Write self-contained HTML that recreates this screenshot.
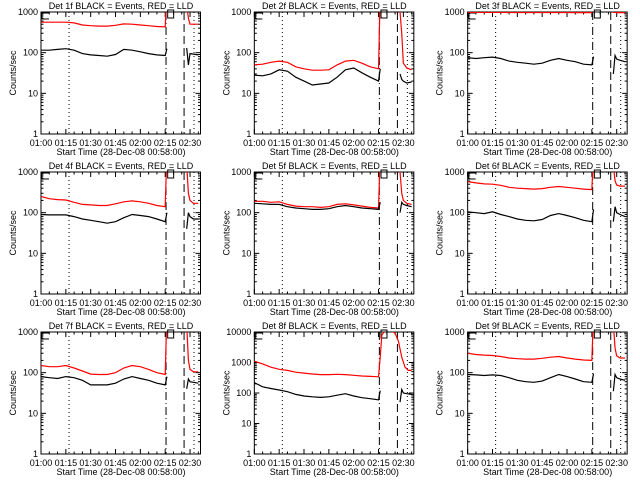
<!DOCTYPE html>
<html><head><meta charset="utf-8"><style>
html,body{margin:0;padding:0;background:#fff}
svg{display:block}
text{font-family:"Liberation Sans",sans-serif;font-size:9px;fill:#000}
</style></head><body>
<svg id="fig" width="640" height="480" xmlns="http://www.w3.org/2000/svg"></svg>
<script>
// shared time grids (minutes after 01:00)
const tMain = [0,5,10,15,20,25,30,35,40,45,50,55,60,65,70,75,76];
const tPost = [88,89,90,92,95];
const xTickLabels = ["01:00","01:15","01:30","01:45","02:00","02:15","02:30"];
const detNames = ["1f","2f","3f","4f","5f","6f","7f","8f","9f"];
const yMaxDecade = [3,3,3,3,3,3,3,4,3];
const blackMain = [
 [115,115,120,125,115,95,88,85,82,90,120,115,105,95,88,85,125],
 [28,27,30,38,35,25,20,16,17,18,25,38,42,32,25,20,40],
 [75,72,75,78,72,62,58,55,52,55,65,72,65,60,52,50,80],
 [90,88,88,88,80,70,65,60,55,60,75,90,85,80,70,60,100],
 [170,165,160,160,140,130,125,120,120,125,140,150,140,130,125,120,180],
 [105,100,95,105,90,80,70,65,63,68,85,95,85,75,65,60,120],
 [80,75,72,80,75,65,50,50,50,55,70,80,72,65,55,50,80],
 [220,160,140,125,110,90,80,75,72,75,85,95,80,70,65,60,120],
 [90,88,85,88,85,75,65,60,58,62,75,90,80,70,60,58,95]
];
const blackPost = [
 [130,50,95,92,88],[30,22,20,18,19],[30,85,70,65,60],[40,100,80,70,70],[100,180,160,150,140],
 [60,140,100,90,80],[40,70,60,58,55],[50,130,100,95,90],[35,90,75,70,65]
];
const redMain = [
 [560,560,560,560,540,480,460,450,450,470,510,500,480,460,440,430,3000],
 [50,52,58,62,58,45,40,37,37,38,50,62,65,55,45,40,3000],
 [975,975,975,975,975,970,970,970,970,970,970,970,970,965,965,965,3000],
 [250,220,210,205,180,160,155,150,150,165,185,195,185,170,150,140,3000],
 [190,190,180,185,160,145,140,140,135,140,160,165,155,145,135,130,3000],
 [580,540,510,500,470,420,400,390,380,390,420,440,420,400,380,370,3000],
 [150,140,140,150,130,110,92,90,90,100,130,150,140,120,100,90,3000],
 [1100,900,700,600,550,480,450,420,400,400,410,400,380,360,350,340,1500],
 [300,280,270,265,250,230,220,215,215,225,240,250,230,215,205,200,3000]
];
const redPost = [
 [1500,700,500,500,500],[1000,300,55,42,38],[975,975,965,965,965],[1500,300,200,170,170],
 [1000,300,200,170,160],[1500,600,480,450,450],[1500,200,120,105,105],[1500,700,550,550,550],
 [1500,400,260,230,230]
];
// post-gap red for panel 8 (continuous flare)
const flareT = [76,77,79,82,85,87,89,91,93,95];
const flareRed = [1500,8000,11000,12000,9000,5000,1500,700,550,550];

const NS="http://www.w3.org/2000/svg";
const svg=document.getElementById('fig');
function el(tag,attrs,parent){const e=document.createElementNS(NS,tag);for(const k in attrs)e.setAttribute(k,attrs[k]);(parent||svg).appendChild(e);return e;}
const PX_PER_MIN=1.656, PL=41, PR=200.5, PT=12, PB=134;
for(let p=0;p<9;p++){
  const ox=(p%3)*213.33, oy=Math.floor(p/3)*160;
  const g=el('g',{transform:`translate(${ox.toFixed(2)},${oy})`});
  
  
  const dec=yMaxDecade[p];
  const xs=t=>PL+t*PX_PER_MIN;
  const ys=v=>{let l=Math.log10(Math.max(v,1));l=Math.min(l,dec+0.5);return PB-(PB-PT)*l/dec;};
  const clip='c'+p;
  const cp=el('clipPath',{id:clip},g);el('rect',{x:PL,y:PT,width:PR-PL,height:PB-PT},cp);
  const ti=el('text',{x:121,y:9,'text-anchor':'middle'},g);ti.textContent=`Det ${detNames[p]} BLACK = Events, RED = LLD`;
  
  const yt=el('text',{x:0,y:0,'text-anchor':'middle',transform:`translate(16,${(PT+PB)/2}) rotate(-90)`,'font-size':'8'},g);yt.textContent='Counts/sec';
  
  const xt=el('text',{x:121,y:155,'text-anchor':'middle'},g);xt.textContent='Start Time (28-Dec-08 00:58:00)';
  
  const fr=el('rect',{x:PL,y:PT,width:PR-PL,height:PB-PT,fill:'none',stroke:'#000','stroke-width':1},g);
  
  for(let d=0;d<=dec;d++){
    const y=ys(Math.pow(10,d));
    el('line',{x1:PL,x2:PL+5,y1:y,y2:y,stroke:'#000'},g);el('line',{x1:PR-5,x2:PR,y1:y,y2:y,stroke:'#000'},g);
    const lb=el('text',{x:38,y:y+3,'text-anchor':'end'},g);lb.textContent=String(Math.pow(10,d));
    
    if(d<dec)for(let m=2;m<10;m++){const ym=ys(m*Math.pow(10,d));
      el('line',{x1:PL,x2:PL+2.5,y1:ym,y2:ym,stroke:'#000'},g);el('line',{x1:PR-2.5,x2:PR,y1:ym,y2:ym,stroke:'#000'},g);}
  }
  for(let t=0;t<=95;t+=5){const x=xs(t);const L=(t%15===0)?5:2.5;
    el('line',{x1:x,x2:x,y1:PB,y2:PB-L,stroke:'#000'},g);el('line',{x1:x,x2:x,y1:PT,y2:PT+L,stroke:'#000'},g);}
  xTickLabels.forEach((s,i)=>{const lb=el('text',{x:xs(i*15),y:146,'text-anchor':'middle'},g);lb.textContent=s;
    });
  el('path',{d:`M${PL+8} ${PT+1}H${PL+1}V${PT+7}H${PL+8}`,fill:'none',stroke:'#000'},g);
  el('rect',{x:xs(76.5),y:PT-2,width:6,height:8,fill:'none',stroke:'#000'},g);
  const vl=(t,da,name)=>{const l=el('line',{x1:xs(t),x2:xs(t),y1:PT,y2:PB,stroke:'#000','stroke-dasharray':da},g);
    };
  vl(16.9,'1,3','dotted-marker-start');vl(92.4,'1,3','dotted-marker-end');
  vl(75.5,'8,3,1,3','dash-dot-marker');vl(86.4,'8,4','dashed-marker');
  const pl=(ts,vs,col,name)=>{const l=el('polyline',{points:ts.map((t,i)=>xs(t).toFixed(1)+','+ys(vs[i]).toFixed(1)).join(' '),fill:'none',stroke:col,'stroke-width':1.2,'clip-path':`url(#${clip})`},g);
    };
  if(p===7){pl(tMain.slice(0,16).concat(flareT),redMain[p].slice(0,16).concat(flareRed),'#ff0000','red-lld-series');}
  else pl(tMain.concat(tPost),redMain[p].concat(redPost[p]),'#ff0000','red-lld-series');
  pl(tMain,blackMain[p],'#000','black-events-series');
  pl(tPost,blackPost[p],'#000','black-events-post-series');
}
</script>
</body></html>
